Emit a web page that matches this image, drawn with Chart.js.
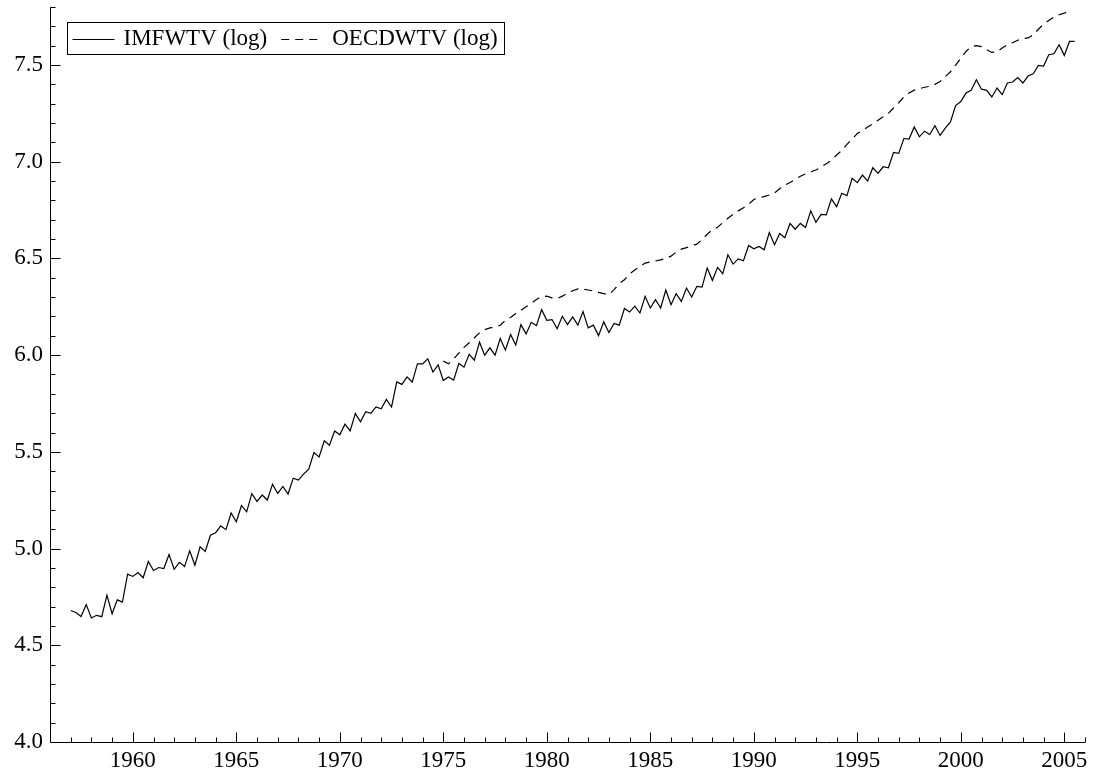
<!DOCTYPE html>
<html>
<head>
<meta charset="utf-8">
<title>IMFWTV vs OECDWTV (log)</title>
<script src="https://cdn.jsdelivr.net/npm/chart.js@4.4.1/dist/chart.umd.min.js"></script>
<style>
    html, body { margin: 0; padding: 0; background: #fff; overflow: hidden; }
    #wrap { width: 1098px; height: 776px; position: relative; }
</style>
</head>
<body>
<div id="wrap"><canvas id="trade-chart"></canvas></div>
<script>
// quarterly data, first observation 1957 Q1
const firstYear = 1957;
const imfStartQuarter = 0;    // 1957 Q1
const oecdStartQuarter = 72;  // 1975 Q1

const imfwtv = [
    4.680, 4.670, 4.649, 4.711, 4.641, 4.655, 4.648, 4.759, 4.663, 4.735,
    4.723, 4.868, 4.856, 4.876, 4.849, 4.933, 4.887, 4.902, 4.897, 4.969,
    4.893, 4.929, 4.907, 4.988, 4.914, 5.009, 4.985, 5.069, 5.082, 5.117,
    5.098, 5.184, 5.139, 5.223, 5.190, 5.284, 5.244, 5.277, 5.251, 5.333,
    5.285, 5.321, 5.282, 5.364, 5.354, 5.385, 5.411, 5.497, 5.474, 5.557,
    5.534, 5.608, 5.588, 5.643, 5.608, 5.698, 5.655, 5.708, 5.699, 5.732,
    5.723, 5.771, 5.732, 5.862, 5.849, 5.888, 5.861, 5.955, 5.955, 5.981,
    5.913, 5.950, 5.869, 5.887, 5.871, 5.957, 5.938, 6.004, 5.974, 6.067,
    6.000, 6.038, 6.000, 6.086, 6.026, 6.107, 6.052, 6.158, 6.110, 6.170,
    6.153, 6.235, 6.180, 6.184, 6.137, 6.201, 6.158, 6.198, 6.155, 6.225,
    6.141, 6.155, 6.101, 6.172, 6.117, 6.164, 6.155, 6.241, 6.223, 6.253,
    6.218, 6.304, 6.244, 6.287, 6.244, 6.337, 6.261, 6.318, 6.278, 6.347,
    6.301, 6.356, 6.352, 6.450, 6.387, 6.454, 6.421, 6.519, 6.471, 6.498,
    6.488, 6.567, 6.550, 6.562, 6.545, 6.634, 6.571, 6.629, 6.607, 6.681,
    6.651, 6.681, 6.660, 6.746, 6.687, 6.728, 6.725, 6.808, 6.768, 6.837,
    6.825, 6.914, 6.892, 6.931, 6.900, 6.969, 6.940, 6.974, 6.969, 7.048,
    7.043, 7.120, 7.117, 7.180, 7.129, 7.158, 7.141, 7.186, 7.136, 7.174,
    7.206, 7.290, 7.311, 7.355, 7.369, 7.424, 7.375, 7.369, 7.335, 7.381,
    7.347, 7.407, 7.412, 7.435, 7.407, 7.443, 7.455, 7.498, 7.495, 7.553,
    7.558, 7.605, 7.550, 7.622, 7.622
];

const oecdwtv = [
    5.969, 5.955, 5.980, 6.010, 6.040, 6.064, 6.090, 6.115, 6.132, 6.141,
    6.143, 6.155, 6.180, 6.195, 6.215, 6.232, 6.250, 6.268, 6.288, 6.303,
    6.305, 6.296, 6.292, 6.305, 6.320, 6.333, 6.343, 6.341, 6.337, 6.332,
    6.325, 6.318, 6.313, 6.339, 6.370, 6.390, 6.420, 6.440, 6.458, 6.476,
    6.482, 6.487, 6.493, 6.500, 6.512, 6.533, 6.548, 6.556, 6.565, 6.574,
    6.598, 6.625, 6.648, 6.661, 6.685, 6.708, 6.728, 6.746, 6.762, 6.780,
    6.805, 6.815, 6.820, 6.828, 6.838, 6.860, 6.879, 6.893, 6.908, 6.925,
    6.937, 6.948, 6.957, 6.972, 6.990, 7.008, 7.035, 7.058, 7.090, 7.118,
    7.146, 7.160, 7.180, 7.195, 7.215, 7.232, 7.250, 7.278, 7.305, 7.335,
    7.355, 7.370, 7.378, 7.385, 7.390, 7.400, 7.415, 7.440, 7.465, 7.500,
    7.535, 7.570, 7.595, 7.600, 7.595, 7.580, 7.565, 7.568, 7.588, 7.605,
    7.615, 7.628, 7.636, 7.640, 7.656, 7.685, 7.712, 7.730, 7.748, 7.760,
    7.768, 7.780
];

const xTickLabels = [1960, 1965, 1970, 1975, 1980, 1985, 1990, 1995, 2000, 2005];
const yTickLabels = [4.0, 4.5, 5.0, 5.5, 6.0, 6.5, 7.0, 7.5];

const seriesNames = ["IMFWTV (log)", "OECDWTV (log)"];

const FONT = "'Liberation Serif', 'Times New Roman', serif";
Chart.defaults.font.family = FONT;
Chart.defaults.color = "#000";

const toPoints = (values, startQuarter) =>
    values.map((v, i) => ({ x: firstYear + (startQuarter + i) / 4, y: v }));

const isLabel = (list, v) => list.some(l => Math.abs(l - v) < 1e-6);

// axis lines, inward ticks and the boxed legend
const axisFrame = {
    id: "axisFrame",
    afterDraw(chart) {
        const { ctx, chartArea: a, scales: { x, y } } = chart;
        const left = Math.round(a.left) + 0.5;
        const bottom = Math.round(a.bottom) + 0.5;

        ctx.save();
        ctx.strokeStyle = "#000";
        ctx.lineWidth = 1;
        ctx.setLineDash([]);
        ctx.beginPath();
        ctx.moveTo(left, a.top);
        ctx.lineTo(left, bottom);
        ctx.lineTo(a.right, bottom);

        x.ticks.forEach(t => {
            if (t.value <= x.min) return;
            const px = Math.round(x.getPixelForValue(t.value)) + 0.5;
            const len = isLabel(xTickLabels, t.value) ? 10 : 5;
            ctx.moveTo(px, bottom);
            ctx.lineTo(px, bottom - len);
        });
        y.ticks.forEach(t => {
            if (t.value <= y.min) return;
            const py = Math.round(y.getPixelForValue(t.value)) + 0.5;
            const len = isLabel(yTickLabels, t.value) ? 10 : 5;
            ctx.moveTo(left, py);
            ctx.lineTo(left + len, py);
        });
        ctx.stroke();

        // legend
        const boxX = left + 16, boxY = a.top + 15, boxH = 32;
        const sampleLen = 42, padL = 6, gapText = 9, gapItem = 14, padR = 6;
        ctx.font = "23px " + FONT;
        ctx.textBaseline = "middle";
        ctx.textAlign = "left";
        let cx = boxX + padL;
        const midY = boxY + boxH / 2 + 0.5;
        const items = chart.data.datasets.map(ds => ({ ds, w: ctx.measureText(ds.label).width }));
        const boxW = items.reduce((s, it) => s + sampleLen + gapText + it.w, 0) + padL + padR + gapItem * (items.length - 1);

        ctx.fillStyle = "#fff";
        ctx.fillRect(boxX, boxY, boxW, boxH);
        ctx.strokeRect(Math.round(boxX) + 0.5, Math.round(boxY) + 0.5, Math.round(boxW), boxH);

        items.forEach(it => {
            ctx.beginPath();
            ctx.lineWidth = it.ds.borderWidth;
            ctx.setLineDash(it.ds.borderDash || []);
            ctx.moveTo(cx, Math.round(midY) + 0.5);
            ctx.lineTo(cx + sampleLen, Math.round(midY) + 0.5);
            ctx.stroke();
            ctx.setLineDash([]);
            cx += sampleLen + gapText;
            ctx.fillStyle = "#000";
            ctx.fillText(it.ds.label, cx, midY);
            cx += it.w + gapItem;
        });
        ctx.restore();
    }
};

new Chart(document.getElementById("trade-chart"), {
    type: "line",
    data: {
        datasets: [
            {
                label: seriesNames[0],
                data: toPoints(imfwtv, imfStartQuarter),
                borderColor: "#000",
                borderWidth: 1.2,
                pointRadius: 0,
                tension: 0,
                fill: false
            },
            {
                label: seriesNames[1],
                data: toPoints(oecdwtv, oecdStartQuarter),
                borderColor: "#000",
                borderWidth: 1.2,
                borderDash: [8, 6],
                pointRadius: 0,
                tension: 0,
                fill: false
            }
        ]
    },
    options: {
        responsive: true,
        maintainAspectRatio: false,
        animation: false,
        layout: { padding: { top: 7, right: 13, left: 0, bottom: 0 } },
        scales: {
            x: {
                type: "linear",
                min: 1956,
                max: 2006,
                grid: { display: false, drawTicks: false },
                border: { display: false },
                afterFit: scale => {
                    scale.height = 34;
                    scale.paddingLeft = 0;
                    scale.paddingRight = 0;
                },
                ticks: {
                    stepSize: 1,
                    autoSkip: false,
                    maxRotation: 0,
                    padding: 5,
                    font: { size: 23 },
                    callback: v => isLabel(xTickLabels, v) ? String(v) : ""
                }
            },
            y: {
                type: "linear",
                min: 4.0,
                max: 7.8,
                grid: { display: false, drawTicks: false },
                border: { display: false },
                afterFit: scale => {
                    scale.width = 50;
                    scale.paddingTop = 0;
                    scale.paddingBottom = 0;
                },
                ticks: {
                    stepSize: 0.1,
                    autoSkip: false,
                    padding: 7,
                    font: { size: 23 },
                    callback: v => isLabel(yTickLabels, v) ? Number(v).toFixed(1) : ""
                }
            }
        },
        plugins: {
            legend: { display: false },
            tooltip: { enabled: false }
        }
    },
    plugins: [axisFrame]
});
</script>
</body>
</html>
